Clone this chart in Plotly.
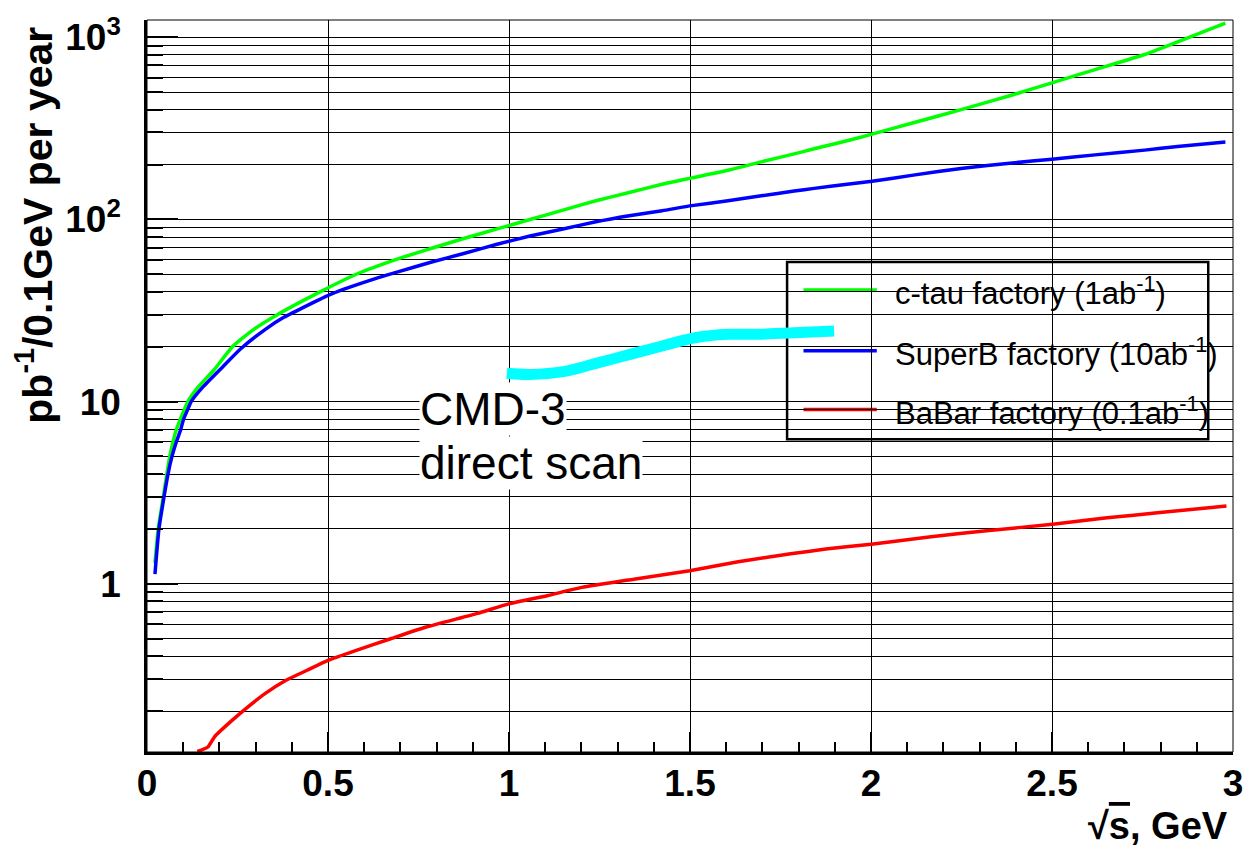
import plotly.graph_objects as go

# Integrated luminosity per 0.1 GeV per year vs sqrt(s)
ctau_x = [0.022, 0.031, 0.045, 0.063, 0.081, 0.113, 0.141, 0.186, 0.236, 0.296, 0.36,
          0.478, 0.578, 0.693, 0.784, 0.875, 0.967, 1.058, 1.149, 1.240, 1.332, 1.423,
          1.505, 1.605, 1.697, 1.788, 1.843, 1.934, 2.003, 2.117, 2.254, 2.390, 2.500,
          2.619, 2.756, 2.847, 2.979]
ctau_y = [1.3, 2.0, 3.0, 5.0, 7.0, 10.0, 12.0, 15.0, 20.0, 25.0, 30.0,
          40.0, 50.0, 60.7, 69.2, 78.5, 88.7, 99.8, 112.5, 126.5, 140.5, 156.0,
          169.0, 186.0, 207.0, 229.0, 244.0, 270.0, 294.0, 339.0, 403.0, 482.0, 562.0,
          664.0, 804.0, 944.0, 1194.0]

superb_x = [0.022, 0.033, 0.047, 0.058, 0.069, 0.081, 0.093, 0.101, 0.112, 0.122, 0.154,
            0.209, 0.259, 0.328, 0.378, 0.51, 0.633, 0.693, 0.784, 0.875, 0.967, 1.058,
            1.149, 1.240, 1.332, 1.423, 1.505, 1.605, 1.697, 1.788, 1.843, 1.934, 2.003,
            2.117, 2.254, 2.390, 2.500, 2.619, 2.756, 2.847, 2.979]
superb_y = [1.13, 2.0, 3.0, 4.0, 5.0, 6.0, 7.0, 8.0, 9.0, 10.0, 12.0,
            15.5, 19.5, 25.0, 29.0, 39.0, 47.5, 51.5, 58.2, 65.0, 73.0, 81.0,
            88.5, 97.0, 104.7, 111.6, 119.0, 126.5, 134.8, 143.0, 148.0, 156.0, 162.0,
            175.0, 191.0, 204.0, 214.0, 226.0, 240.0, 251.0, 266.0]

babar_x = [0.139, 0.168, 0.187, 0.231, 0.279, 0.327, 0.384, 0.442, 0.500, 0.576, 0.673,
           0.769, 0.913, 0.999, 1.105, 1.201, 1.345, 1.499, 1.633, 1.778, 1.875, 2.001,
           2.166, 2.312, 2.502, 2.652, 2.798, 2.982]
babar_y = [0.120, 0.127, 0.145, 0.175, 0.211, 0.250, 0.295, 0.335, 0.380, 0.430, 0.499,
           0.577, 0.688, 0.775, 0.860, 0.955, 1.06, 1.18, 1.32, 1.46, 1.55, 1.65,
           1.81, 1.95, 2.12, 2.30, 2.46, 2.67]

cmd3_x = [0.994, 1.058, 1.150, 1.240, 1.332, 1.423, 1.514, 1.605, 1.697, 1.788, 1.898]
cmd3_y = [14.3, 14.1, 14.6, 16.2, 18.1, 20.2, 22.4, 23.4, 23.4, 23.9, 24.4]

series_names = ["c-tau factory (1ab<sup>-1</sup>)",
                "SuperB factory (10ab<sup>-1</sup>)",
                "BaBar factory (0.1ab<sup>-1</sup>)"]
series_colors = ["#00ff00", "#0000ff", "#ff0000"]

x_ticks = [0, 0.5, 1, 1.5, 2, 2.5, 3]
x_ticktext = ["0", "0.5", "1", "1.5", "2", "2.5", "3"]
y_ticks = [1, 10, 100, 1000]
y_ticktext = ["1", "10", "10<sup>2</sup>", "10<sup>3</sup>"]
y_minor = [m * 10.0 ** e for e in (-1, 0, 1, 2) for m in range(2, 10)]

FONT = "Liberation Sans"

fig = go.Figure()
for xs, ys, name, col in zip([ctau_x, superb_x, babar_x], [ctau_y, superb_y, babar_y],
                             series_names, series_colors):
    fig.add_trace(go.Scatter(x=xs, y=ys, mode="lines", name=name,
                             line=dict(color=col, width=3.5, shape="spline", smoothing=0.5),
                             showlegend=False))

fig.add_trace(go.Scatter(x=cmd3_x, y=cmd3_y, mode="lines", name="CMD-3 direct scan",
                         line=dict(color="#00ffff", width=11, shape="spline"),
                         showlegend=False))

fig.update_layout(
    width=1255, height=848,
    margin=dict(l=147, r=12, t=17, b=96),
    paper_bgcolor="white", plot_bgcolor="white",
    showlegend=False,
    font=dict(family=FONT, color="black"),
)

fig.update_xaxes(
    range=[0, 3],
    tickmode="array", tickvals=x_ticks, ticktext=x_ticktext,
    ticks="inside", ticklen=20, tickwidth=2, tickcolor="black",
    tickfont=dict(family=FONT, size=37, color="black", weight="bold"),
    ticklabelstandoff=-3,
    showline=True, linewidth=2.5, linecolor="black",
    showgrid=True, gridcolor="black", gridwidth=1,
    zeroline=False,
    minor=dict(dtick=0.1, ticks="inside", ticklen=10, tickwidth=2,
               tickcolor="black", showgrid=False),
)

fig.update_yaxes(
    type="log", range=[-0.9235, 3.0945],
    tickmode="array", tickvals=y_ticks, ticktext=y_ticktext,
    ticks="inside", ticklen=31, tickwidth=2, tickcolor="black",
    tickfont=dict(family=FONT, size=37, color="black", weight="bold"),
    ticklabelstandoff=16,
    showline=True, linewidth=2.5, linecolor="black",
    showgrid=True, gridcolor="black", gridwidth=1.3,
    zeroline=False,
    minor=dict(tickmode="array", tickvals=y_minor, ticks="inside", ticklen=16,
               tickwidth=2, tickcolor="black", showgrid=True,
               gridcolor="black", gridwidth=1.3),
)

# thin frame on top and right
fig.add_shape(type="rect", xref="paper", yref="paper", x0=0, x1=1, y0=0, y1=1,
              line=dict(color="black", width=1), layer="above")

# axis titles
fig.add_annotation(xref="paper", yref="paper", x=-0.104, y=0.993,
                   text="pb<sup>-1</sup>/0.1GeV per year", textangle=-90,
                   showarrow=False, xanchor="center", yanchor="top",
                   font=dict(family=FONT, size=41, color="black", weight="bold"))
fig.add_annotation(xref="paper", yref="paper", x=0.9972, y=-0.1007,
                   text="√<span style='text-decoration:overline'>s</span>, GeV",
                   showarrow=False, xanchor="right", yanchor="middle",
                   font=dict(family=FONT, size=38, color="black", weight="bold"))

# CMD-3 label
for txt, yp in [("CMD-3", 0.468), ("direct scan", 0.3946)]:
    fig.add_annotation(xref="paper", yref="paper", x=(421 - 147) / 1096, y=yp,
                       text=txt, showarrow=False, xanchor="left", yanchor="middle",
                       bgcolor="white", borderpad=0,
                       font=dict(family=FONT, size=46, color="black"))

# legend box
lx0, lx1, ly0, ly1 = 0.5894, 0.9772, 0.4272, 0.6694
fig.add_shape(type="rect", xref="paper", yref="paper", x0=lx0, x1=lx1, y0=ly0, y1=ly1,
              line=dict(color="black", width=2.5), fillcolor="white", layer="between")
entry_y = [0.6313, 0.5483, 0.4680]
for name, col, ey in zip(series_names, series_colors, entry_y):
    fig.add_shape(type="line", xref="paper", yref="paper", x0=0.6045, x1=0.672,
                  y0=ey, y1=ey, line=dict(color=col, width=3.5), layer="between")
    fig.add_annotation(xref="paper", yref="paper", x=0.687, y=ey - 0.002, text=name,
                       showarrow=False, xanchor="left", yanchor="middle",
                       font=dict(family=FONT, size=31, color="black"))

fig.write_html("out.html")
